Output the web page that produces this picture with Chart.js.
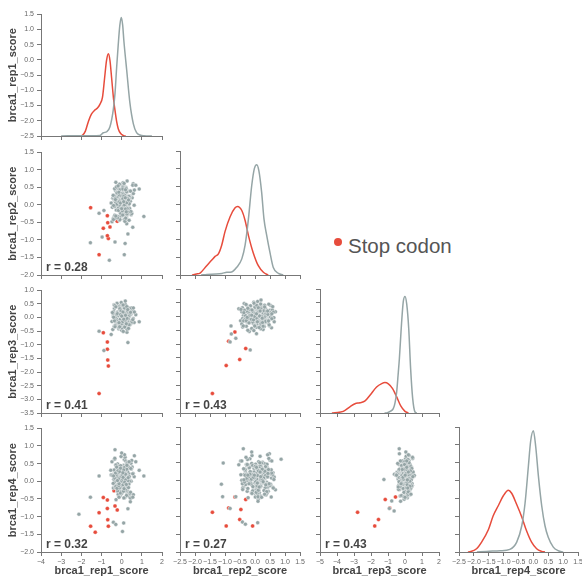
<!DOCTYPE html>
<html>
<head>
<meta charset="utf-8">
<script src="https://cdn.jsdelivr.net/npm/chart.js@4.4.1/dist/chart.umd.min.js"></script>
<style>
  html, body { margin: 0; padding: 0; background: #fff; }
  #wrap { position: relative; width: 582px; height: 578px; overflow: hidden; }
  #wrap canvas { position: absolute; }
  #legendDot { position: absolute; left: 334px; top: 238px; width: 8px; height: 8px; border-radius: 50%; background: #e74c3c; }
  #legendText { position: absolute; left: 348px; top: 234px; line-height: 20px; font: 20.5px "Liberation Sans", Arial, sans-serif; color: #555; white-space: nowrap; }
</style>
</head>
<body>
<div id="wrap">
  <div id="legendDot"></div>
  <div id="legendText">Stop codon</div>
</div>
<script>
// variable names (row / column order)
const scoreNames = ['brca1_rep1_score', 'brca1_rep2_score', 'brca1_rep3_score', 'brca1_rep4_score'];

// other variants (grey) - last block are the scattered ones
const rep1Score = [
  0.05,-0.12,0.21,-0.03,0.34,-0.27,0.11,0.02,-0.18,0.29,
  -0.08,0.15,-0.41,0.07,0.46,-0.15,0.24,-0.01,0.09,-0.33,
  0.18,-0.22,0.38,0.03,-0.06,0.13,-0.29,0.27,0.00,-0.11,
  0.52,-0.19,0.08,0.31,-0.36,0.16,-0.04,0.22,-0.25,0.06,
  -0.14,0.41,0.12,-0.48,0.19,-0.07,0.26,0.04,-0.31,0.14,
  0.35,-0.02,-0.21,0.10,0.57,-0.09,0.17,-0.38,0.01,0.28,
  -0.16,0.23,-0.05,0.44,-0.26,0.09,0.13,-0.13,0.32,-0.44,
  0.06,0.20,-0.10,0.02,0.39,-0.23,0.15,-0.01,0.25,-0.34,
  0.11,-0.17,0.48,0.05,-0.28,0.18,0.03,-0.08,0.30,-0.20,
  0.62,-0.12,0.07,0.24,-0.39,0.14,-0.03,0.36,-0.15,0.01,
  -0.24,0.19,0.10,-0.52,0.27,-0.06,0.04,0.43,-0.18,0.12,
  0.22,-0.30,0.08,-0.09,0.33,0.00,-0.14,0.17,-0.35,0.21,
  0.13,-0.05,0.28,-0.22,0.47,-0.11,0.06,0.16,-0.27,0.09,
  0.08,-0.21,0.14,0.33,-0.06,0.02,-0.37,0.19,0.26,-0.11,
  -0.02,0.29,-0.17,0.11,0.40,-0.28,0.05,0.15,-0.09,0.23,
  0.36,0.01,-0.24,-0.13,0.18,0.07,0.50,-0.32,0.12,-0.04,
  -0.19,0.21,0.09,0.27,-0.42,0.16,-0.07,0.04,0.31,-0.15,
  0.13,-0.26,0.45,0.00,-0.10,0.24,0.17,-0.34,0.06,0.38,
  -0.05,0.10,-0.20,0.55,0.03,-0.29,0.20,-0.12,0.28,0.08,
  0.42,-0.16,0.01,0.14,-0.23,0.32,-0.08,0.22,-0.46,0.11,
  0.05,0.25,-0.14,-0.31,0.37,0.09,-0.02,0.18,-0.18,0.30,
  -0.25,0.15,0.03,0.44,-0.09,-0.36,0.12,0.26,0.07,-0.13,
  0.19,-0.03,0.34,-0.21,0.10,0.58,-0.40,0.06,0.23,-0.06,
  1.10,-1.55,-1.12,-0.97,-2.12,-0.61,0.13,-0.33,0.17,0.55,0.31,
  -0.88,0.87,0.70,0.04,-0.33,0.00,0.63,-0.54,-0.41,-0.29,0.10,
  null,null,null,null,0.18,null,null,null,null,null,null
];
const rep2Score = [
  -0.14,0.22,0.31,-0.05,0.08,0.47,-0.29,-0.11,0.19,0.03,
  0.36,0.12,-0.38,-0.02,0.25,0.55,0.06,-0.21,0.41,0.15,
  -0.09,-0.33,0.18,0.29,0.01,-0.17,0.64,0.10,0.27,-0.44,
  0.20,0.07,-0.25,0.39,0.13,-0.06,-0.12,0.33,0.52,-0.30,
  0.04,0.24,0.16,-0.48,0.09,0.35,-0.19,0.28,-0.03,0.43,
  0.11,-0.27,-0.08,0.21,0.60,0.02,0.17,-0.36,0.30,0.14,
  0.45,-0.15,0.05,-0.23,0.26,0.38,-0.41,0.09,0.00,0.19,
  -0.31,0.50,0.12,0.23,-0.10,-0.04,0.34,0.07,-0.54,0.16,
  0.27,0.03,-0.20,0.42,0.11,-0.13,0.06,0.58,-0.26,0.22,
  -0.01,0.32,0.15,-0.35,0.18,0.48,-0.07,0.25,0.08,-0.16,
  0.37,-0.22,0.13,0.05,0.68,-0.32,0.20,0.10,-0.11,0.29,
  0.02,0.40,-0.18,-0.42,0.24,0.14,0.31,-0.05,0.46,-0.24,
  0.09,0.19,-0.09,0.35,-0.28,0.12,0.53,0.01,-0.15,0.26,
  0.31,0.05,-0.22,0.17,0.44,-0.09,0.26,-0.35,0.12,0.59,
  -0.14,0.38,0.08,-0.28,0.21,0.02,0.49,-0.06,0.15,-0.41,
  0.24,-0.18,0.35,0.10,-0.03,0.63,-0.25,0.19,0.06,0.29,
  -0.33,0.13,0.42,-0.11,0.27,-0.47,0.04,0.33,0.18,-0.08,
  0.09,0.51,-0.19,0.23,-0.01,0.37,0.14,-0.30,0.45,0.03,
  -0.24,0.20,0.11,0.56,-0.13,0.07,-0.38,0.28,0.16,-0.04,
  0.40,-0.16,0.25,0.00,0.34,-0.21,0.12,0.47,-0.07,0.22,
  -0.29,0.06,0.36,0.15,-0.44,0.30,0.09,-0.12,0.54,0.18,
  0.01,0.27,-0.17,0.39,0.11,-0.05,0.61,-0.26,0.19,0.08,
  0.43,-0.10,0.14,-0.37,0.24,0.32,-0.02,0.17,-0.20,0.05,
  -0.33,-1.08,-0.24,-0.92,null,-1.58,-1.42,-1.06,-1.10,-0.64,-0.83,
  -0.16,0.45,0.56,null,-0.39,-0.11,0.42,null,-0.42,-0.32,0.09,
  -1.06,-1.12,0.87,0.54,0.20,-0.80,-0.79,-0.64,null,null,null
];
const rep3Score = [
  0.11,0.24,-0.18,-0.03,0.30,0.07,-0.35,0.15,-0.09,0.02,
  -0.22,0.19,0.05,0.36,-0.12,-0.41,0.09,0.26,0.00,-0.16,
  0.14,-0.06,-0.28,0.21,0.43,0.03,-0.19,0.12,-0.47,0.17,
  0.27,0.08,-0.13,-0.02,0.33,-0.25,0.18,0.06,0.40,-0.08,
  -0.31,0.10,0.22,-0.15,0.01,0.29,-0.54,0.16,0.05,-0.20,
  0.34,-0.11,0.13,0.25,-0.04,-0.37,0.07,0.47,-0.23,0.09,
  0.02,-0.17,0.31,0.14,-0.27,0.20,-0.07,0.38,0.11,-0.44,
  -0.10,0.23,0.04,-0.30,0.16,0.52,-0.14,0.06,0.28,-0.01,
  0.19,-0.24,0.35,0.08,-0.05,0.12,-0.39,0.24,0.00,0.15,
  -0.18,0.41,0.03,-0.09,0.21,-0.33,0.13,0.10,-0.21,0.30,
  0.06,-0.12,0.26,-0.62,0.17,0.04,0.37,-0.26,0.09,-0.03,
  0.22,0.14,-0.16,0.32,-0.07,0.01,-0.36,0.18,0.45,-0.11,
  0.08,-0.29,0.15,0.02,-0.19,0.27,0.11,-0.06,0.39,-0.13,
  -0.07,0.18,0.29,-0.21,0.04,0.13,-0.32,0.23,-0.01,0.36,
  0.10,-0.14,0.21,0.42,-0.26,0.06,0.15,-0.09,0.31,-0.38,
  0.02,0.25,-0.18,0.09,0.48,-0.04,0.17,-0.29,0.12,0.20,
  -0.11,0.33,0.07,-0.43,0.14,0.26,-0.06,0.01,0.37,-0.20,
  0.23,-0.02,0.11,0.28,-0.34,0.16,0.05,0.44,-0.13,0.08,
  0.30,-0.24,0.19,-0.08,0.03,0.39,-0.16,0.12,0.24,-0.51,
  0.15,0.06,-0.22,0.34,0.09,-0.05,0.27,-0.30,0.18,0.00,
  -0.15,0.40,0.13,0.02,-0.27,0.21,0.55,-0.10,0.07,0.29,
  0.11,-0.35,0.04,0.19,0.32,-0.12,0.16,-0.03,0.46,-0.19,
  0.08,0.24,-0.40,0.14,-0.06,0.35,0.01,0.20,-0.23,0.10,
  null,null,-0.50,null,null,null,null,null,null,null,-0.92,
  -1.21,-0.16,0.10,null,-0.34,0.05,0.20,null,null,null,null,
  null,null,null,null,0.60,-0.34,-0.63,-0.79,-1.24,-0.78,-0.64
];
const rep4Score = [
  -0.06,0.33,0.14,-0.27,0.02,0.21,0.45,-0.12,0.09,-0.38,
  0.26,-0.02,-0.19,0.12,0.51,0.07,-0.31,0.18,0.36,-0.09,
  0.04,0.29,-0.43,0.16,-0.14,0.61,0.10,-0.23,0.23,0.01,
  0.40,-0.16,0.08,-0.05,0.31,0.19,-0.35,0.47,-0.10,0.13,
  -0.25,0.03,0.27,0.55,-0.08,-0.40,0.15,0.06,0.34,-0.18,
  0.11,0.42,-0.29,0.00,0.22,-0.13,0.68,0.17,-0.04,-0.33,
  0.30,0.05,0.14,-0.48,0.25,0.09,-0.21,0.38,-0.07,0.19,
  -0.11,0.57,0.02,0.28,-0.36,0.12,0.07,-0.24,0.44,-0.01,
  0.20,-0.15,0.35,0.10,-0.52,0.24,0.04,0.16,-0.30,0.49,
  0.13,-0.08,-0.20,0.32,0.06,0.75,-0.17,0.21,-0.42,0.08,
  0.37,0.01,-0.12,0.18,-0.26,0.27,0.11,-0.58,0.15,0.03,
  -0.03,0.46,0.22,-0.09,0.13,-0.34,0.30,0.05,0.62,-0.22,
  0.17,-0.14,0.08,0.39,0.00,-0.28,0.24,-0.46,0.10,0.26,
  0.22,-0.11,0.06,0.41,-0.30,0.15,0.32,-0.04,0.53,-0.19,
  0.09,0.27,-0.37,0.18,0.00,0.46,-0.14,0.12,0.35,-0.25,
  -0.08,0.38,0.14,-0.45,0.24,0.03,0.59,-0.17,0.20,0.07,
  0.31,-0.22,0.11,0.48,-0.06,0.16,-0.33,0.26,0.02,0.42,
  -0.13,0.19,0.36,-0.02,0.08,-0.40,0.28,0.65,-0.10,0.13,
  0.44,0.05,-0.27,0.21,0.12,-0.15,0.33,-0.05,0.50,0.17,
  -0.35,0.25,0.01,0.39,-0.20,0.10,0.29,-0.09,0.16,-0.47,
  0.06,0.34,-0.12,0.23,0.55,-0.28,0.14,0.04,0.30,-0.16,
  0.40,-0.03,0.18,-0.31,0.27,0.09,-0.21,0.45,0.11,-0.07,
  0.20,0.70,-0.18,0.02,0.32,-0.38,0.15,0.24,-0.09,0.37,
  0.15,-0.45,0.15,null,-0.93,null,null,null,null,-0.45,-0.78,
  null,0.31,0.55,-1.42,0.89,0.80,0.72,0.31,-1.16,-1.22,-1.18,
  0.49,-0.10,0.60,-0.46,null,null,null,null,0.03,-0.57,-0.85
];

// stop codon variants (red)
const stopRep1 = [-1.54,-0.66,-0.69,-0.22,-0.71,-0.71,-0.91,-1.12,-0.58,-0.38,-0.33,-1.31];
const stopRep2 = [-0.08,-0.96,-0.51,-0.47,-0.88,-0.31,-0.67,-1.42,-0.63,null,null,null];
const stopRep3 = [null,-1.78,-1.56,null,-0.90,-1.16,-0.56,-2.79,null,null,null,null];
const stopRep4 = [-1.27,-1.27,-1.09,-0.81,-0.77,-0.53,-0.46,-0.89,null,-0.27,-0.70,-1.44];

// density curves on the diagonal (relative height)
const kdeGreyX1 = [-3.0,-2.0,-1.5,-1.07,-0.91,-0.74,-0.58,-0.42,-0.33,-0.25,-0.17,-0.09,-0.02,0.05,0.11,0.25,0.41,0.58,0.74,0.91,1.1,1.5];
const kdeGreyY1 = [0,0.003,0.003,0.005,0.027,0.035,0.076,0.21,0.35,0.56,0.75,0.91,0.973,0.91,0.78,0.54,0.27,0.10,0.027,0.008,0.002,0];
const kdeRedX1 = [-2.1,-1.95,-1.8,-1.65,-1.5,-1.35,-1.2,-1.08,-0.95,-0.85,-0.75,-0.66,-0.58,-0.5,-0.4,-0.33,-0.25,-0.17,-0.05,0.1,0.2];
const kdeRedY1 = [0,0.005,0.04,0.12,0.18,0.21,0.23,0.26,0.32,0.47,0.62,0.675,0.62,0.48,0.3,0.21,0.12,0.06,0.02,0.003,0];

const kdeGreyX2 = [-1.8,-1.6,-1.3,-1.1,-0.94,-0.78,-0.61,-0.44,-0.33,-0.22,-0.11,-0.02,0.06,0.13,0.22,0.30,0.39,0.50,0.61,0.78,0.94];
const kdeGreyY2 = [0,0.005,0.008,0.013,0.022,0.025,0.062,0.13,0.24,0.45,0.72,0.86,0.89,0.84,0.67,0.45,0.32,0.18,0.06,0.013,0];
const kdeRedX2 = [-2.1,-1.95,-1.83,-1.61,-1.44,-1.33,-1.22,-1.11,-1.0,-0.83,-0.67,-0.58,-0.44,-0.33,-0.22,-0.06,0.11,0.28,0.44];
const kdeRedY2 = [0,0.008,0.016,0.075,0.12,0.15,0.17,0.24,0.35,0.47,0.54,0.553,0.52,0.44,0.32,0.18,0.075,0.022,0];

const kdeGreyX3 = [-1.2,-1.04,-0.85,-0.69,-0.59,-0.49,-0.41,-0.33,-0.25,-0.2,-0.1,0.0,0.1,0.22,0.33,0.45,0.59,0.7];
const kdeGreyY3 = [0,0.003,0.015,0.035,0.08,0.17,0.3,0.44,0.62,0.73,0.9,0.94,0.88,0.68,0.36,0.12,0.008,0];
const kdeRedX3 = [-4.3,-4.12,-3.63,-3.24,-2.94,-2.65,-2.35,-2.06,-1.67,-1.37,-1.18,-0.98,-0.73,-0.49,-0.25,0.0,0.2];
const kdeRedY3 = [0,0.003,0.013,0.05,0.075,0.083,0.097,0.143,0.21,0.237,0.245,0.235,0.197,0.13,0.057,0.013,0];

const kdeGreyX4 = [-1.9,-1.57,-1.12,-0.79,-0.56,-0.39,-0.28,-0.17,-0.09,0.0,0.08,0.17,0.28,0.39,0.50,0.67,0.84,1.0];
const kdeGreyY4 = [0,0.005,0.01,0.021,0.079,0.21,0.39,0.68,0.89,0.97,0.84,0.605,0.37,0.21,0.118,0.039,0.01,0];
const kdeRedX4 = [-2.2,-2.13,-1.91,-1.74,-1.51,-1.35,-1.18,-1.01,-0.84,-0.73,-0.56,-0.39,-0.23,-0.06,0.11,0.28,0.39];
const kdeRedY4 = [0,0.002,0.026,0.079,0.18,0.29,0.37,0.45,0.495,0.47,0.38,0.28,0.17,0.079,0.026,0.005,0];

// axis domains: [min, max, step]
const xDomains = [[-4, 2, 1], [-2.5, 1.5, 0.5], [-5, 2, 1], [-2.5, 1.5, 0.5]];
const yDomains = [[-2.5, 1.5, 0.5], [-2, 1.5, 0.5], [-3.5, 1, 0.5], [-2, 1.5, 0.5]];

// pearson r printed in the lower panels, keyed "row,col"
const pearsonR = { '1,0': '0.28', '2,0': '0.41', '2,1': '0.43', '3,0': '0.32', '3,1': '0.27', '3,2': '0.43' };

const greyScores = [rep1Score, rep2Score, rep3Score, rep4Score];
const stopScores = [stopRep1, stopRep2, stopRep3, stopRep4];
const kdeGrey = [[kdeGreyX1, kdeGreyY1], [kdeGreyX2, kdeGreyY2], [kdeGreyX3, kdeGreyY3], [kdeGreyX4, kdeGreyY4]];
const kdeRed = [[kdeRedX1, kdeRedY1], [kdeRedX2, kdeRedY2], [kdeRedX3, kdeRedY3], [kdeRedX4, kdeRedY4]];

// panel plot areas in page pixels
const cols = [{ left: 41, right: 162 }, { left: 180, right: 300 }, { left: 320, right: 439 }, { left: 459, right: 578 }];
const rows = [{ top: 13, bottom: 136 }, { top: 151, bottom: 275 }, { top: 289, bottom: 413 }, { top: 427, bottom: 552 }];

const GREY = '#95a5a6';
const RED = '#e74c3c';
const AXIS = '#777';
const FAMILY = '"Liberation Sans", Arial, Helvetica, sans-serif';

Chart.defaults.font.family = FAMILY;

const pairs = (xs, ys) => xs.map((x, i) => ({ x: x, y: ys[i] })).filter(p => p.x !== null && p.y !== null);
const fmt = step => v => (step < 1 ? v.toFixed(1) : v.toFixed(0)).replace('-', '\u2212');

const rLabel = {
  id: 'rLabel',
  afterDatasetsDraw(chart, args, opts) {
    if (!opts.text) return;
    const { ctx, chartArea } = chart;
    ctx.save();
    ctx.font = 'bold 12px ' + FAMILY;
    ctx.fillStyle = '#444';
    ctx.textBaseline = 'alphabetic';
    ctx.fillText(opts.text, chartArea.left + 5, chartArea.bottom - 4);
    ctx.restore();
  }
};

const wrap = document.getElementById('wrap');

function panel(row, col) {
  const c = cols[col], r = rows[row];
  const leftRes = col === 0 ? c.left : 10;
  const botRes = row === 3 ? 26 : 8;
  const topPad = 6, rightPad = 10;
  const w = (c.right - c.left) + leftRes + rightPad;
  const h = (r.bottom - r.top) + topPad + botRes;

  const cv = document.createElement('canvas');
  cv.width = w; cv.height = h;
  cv.style.left = (c.left - leftRes) + 'px';
  cv.style.top = (r.top - topPad) + 'px';
  cv.style.width = w + 'px';
  cv.style.height = h + 'px';
  wrap.appendChild(cv);

  const xd = xDomains[col], yd = yDomains[row];
  let datasets;
  if (row === col) {
    const line = (src, color) => ({
      type: 'line',
      data: src[0].map((x, i) => ({ x: x, y: src[1][i] })),
      yAxisID: 'd',
      borderColor: color,
      borderWidth: 1.5,
      pointRadius: 0,
      fill: false,
      cubicInterpolationMode: 'monotone'
    });
    datasets = [line(kdeGrey[row], GREY), line(kdeRed[row], RED)];
  } else {
    datasets = [
      {
        data: pairs(greyScores[col], greyScores[row]),
        backgroundColor: GREY,
        borderColor: 'rgba(255,255,255,0.7)',
        borderWidth: 0.6,
        pointRadius: 2
      },
      {
        data: pairs(stopScores[col], stopScores[row]),
        backgroundColor: RED,
        borderColor: 'rgba(255,255,255,0.6)',
        borderWidth: 0.5,
        pointRadius: 2
      }
    ];
  }

  new Chart(cv, {
    type: 'scatter',
    data: { datasets: datasets },
    plugins: [rLabel],
    options: {
      responsive: false,
      animation: false,
      devicePixelRatio: 1,
      layout: { autoPadding: false, padding: { top: topPad, right: rightPad, left: 0, bottom: 0 } },
      plugins: {
        legend: { display: false },
        tooltip: { enabled: false },
        rLabel: { text: pearsonR[row + ',' + col] ? 'r = ' + pearsonR[row + ',' + col] : '' }
      },
      scales: {
        x: {
          type: 'linear',
          min: xd[0], max: xd[1],
          grid: { drawOnChartArea: false, drawTicks: true, tickLength: 4, color: AXIS },
          border: { color: AXIS, width: 1 },
          ticks: {
            display: row === 3, stepSize: xd[2], autoSkip: false, maxRotation: 0,
            padding: 2, color: '#666', font: { size: 7 }, callback: fmt(xd[2])
          },
          title: { display: row === 3, text: scoreNames[col], color: '#444', font: { size: 11, weight: 'bold' }, padding: 0 },
          afterFit: s => { s.height = botRes; }
        },
        y: {
          type: 'linear',
          min: yd[0], max: yd[1],
          grid: { drawOnChartArea: false, drawTicks: true, tickLength: 4, color: AXIS },
          border: { color: AXIS, width: 1 },
          ticks: {
            display: col === 0, stepSize: yd[2], autoSkip: false,
            padding: 3, color: '#666', font: { size: 7 }, callback: fmt(yd[2])
          },
          title: { display: col === 0, text: scoreNames[row], color: '#444', font: { size: 11, weight: 'bold' }, padding: { top: 6, bottom: 0 } },
          afterFit: s => { s.width = leftRes; }
        },
        d: { type: 'linear', axis: 'y', position: 'left', display: false, min: 0, max: 1 }
      }
    }
  });
}

for (let row = 0; row < 4; row++) {
  for (let col = 0; col <= row; col++) panel(row, col);
}
</script>
</body>
</html>
